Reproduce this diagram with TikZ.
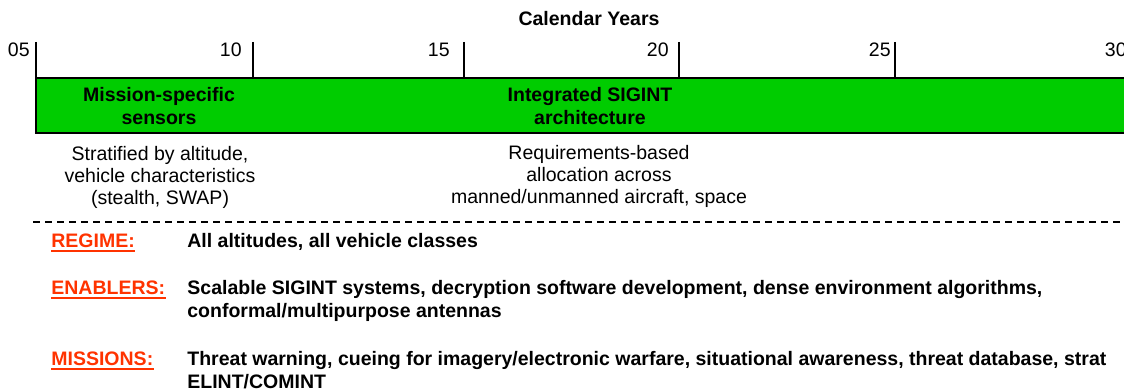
\documentclass[tikz,border=0pt]{standalone}
\usepackage{fontspec}
\setmainfont{Liberation Sans}
\usepackage{xcolor}
\usepackage{tikz}
\usetikzlibrary{positioning,calc}

\definecolor{barGreen}{HTML}{00CC00}
\definecolor{headRed}{HTML}{FF3300}

\begin{document}
\begin{tikzpicture}[
    x=0.5pt, y=-0.5pt,
    every node/.style={inner sep=0pt, font=\fontsize{9.75}{11.5}\selectfont},
    axistitle/.style={anchor=base, font=\fontsize{9.75}{11.5}\selectfont\bfseries},
    yearlabel/.style={anchor=base east},
    tickline/.style={line width=0.9pt},
    bar/.style={draw=black, fill=barGreen, line width=0.9pt},
    barlabel/.style={anchor=base, align=center, font=\fontsize{9.75}{11.5}\selectfont\bfseries},
    note/.style={anchor=base, align=center, font=\fontsize{9.75}{11}\selectfont},
    divider/.style={line width=1.3pt, dash pattern=on 3.5pt off 2.5pt},
    head/.style={anchor=base west, text=headRed, font=\fontsize{9.75}{11.5}\selectfont\bfseries},
    body/.style={anchor=base west, align=left, font=\fontsize{9.75}{11.5}\selectfont\bfseries},
    headline/.style={draw=headRed, line width=1pt}
]
    \useasboundingbox (0,0) rectangle (1124,389);

    % time axis
    \node [axistitle] (years) at (589,26) {Calendar Years};
    \foreach \tx/\lx/\yr in {36/30/05, 253/242/10, 464/450/15, 679/669/20, 895/891/25, 1132/1127/30} {
        \node [yearlabel] (yr\yr) at (\lx,57) {\yr};
        \draw [tickline] (\tx,42) -- (\tx,78);
    }

    % phase bar (multi-line nodes sit on their last baseline)
    \draw [bar] (36,78) rectangle (1150,133);
    \node [barlabel] (phase1) at (159,124.5) {Mission-specific\\sensors};
    \node [barlabel] (phase2) at (590,124.5) {Integrated SIGINT\\architecture};

    \node [note] (note1) at (160,205) {Stratified by altitude,\\vehicle characteristics\\(stealth, SWAP)};
    \node [note] (note2) at (599,204) {Requirements-based\\allocation across\\manned/unmanned aircraft, space};

    \draw [divider] (33,222) -- (1150,222);

    % regime / enablers / missions
    \node [head] (regime) at (51,248) {REGIME:};
    \node [body] (regimeText) at (187,248) {All altitudes, all vehicle classes};
    \node [head] (enablers) at (51,295) {ENABLERS:};
    \node [body] (enablersText) at (187,318) {Scalable SIGINT systems, decryption software development, dense environment algorithms,\\conformal/multipurpose antennas};
    \node [head] (missions) at (51,366) {MISSIONS:};
    \node [body] (missionsText) at (187,389) {Threat warning, cueing for imagery/electronic warfare, situational awareness, threat database, strat\\ELINT/COMINT};

    \foreach \h in {regime, enablers, missions}
        \draw [headline] ([yshift=-1.7pt]\h.base west) -- ([yshift=-1.7pt]\h.base east);
\end{tikzpicture}
\end{document}
